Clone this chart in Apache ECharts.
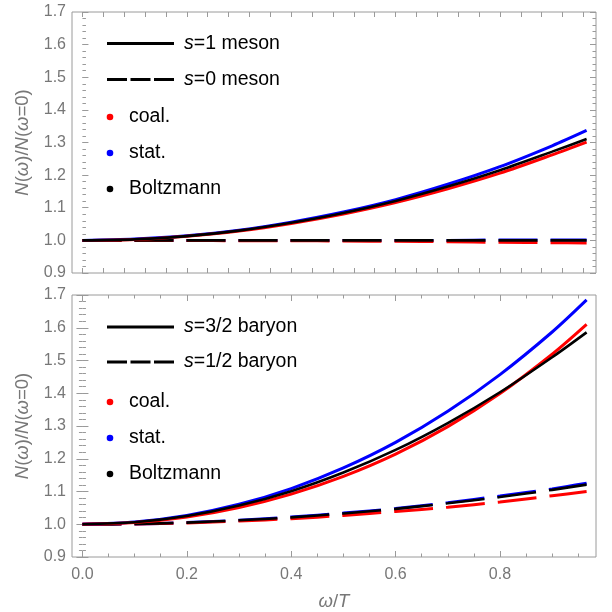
<!DOCTYPE html>
<html><head><meta charset="utf-8">
<script src="https://cdn.jsdelivr.net/npm/echarts@6/dist/echarts.min.js"></script>
<style>html,body{margin:0;padding:0;background:#fff}#c{width:612px;height:612px}</style>
</head><body><div id="c"></div>
<script>
// ---- data ----
var omegaT = [0, 0.1, 0.2, 0.3, 0.4, 0.5, 0.6, 0.7, 0.8, 0.9, 0.966];
// top panel: s=1 meson (solid)
var mesonS1Coal  = [1, 1.003, 1.013, 1.029, 1.052, 1.081, 1.116, 1.158, 1.206, 1.262, 1.301];
var mesonS1Stat  = [1, 1.004, 1.014, 1.031, 1.056, 1.087, 1.125, 1.172, 1.226, 1.290, 1.337];
var mesonS1Boltz = [1, 1.003, 1.013, 1.030, 1.054, 1.084, 1.121, 1.165, 1.215, 1.272, 1.311];
// top panel: s=0 meson (dashed)
var mesonS0Coal  = [1, 1.000, 1.000, 0.999, 0.999, 0.998, 0.997, 0.996, 0.994, 0.993, 0.992];
var mesonS0Stat  = [1, 1.000, 1.000, 1.000, 1.000, 1.000, 1.000, 1.000, 1.001, 1.001, 1.001];
var mesonS0Boltz = [1, 1.000, 1.000, 1.000, 1.000, 1.000, 1.000, 1.000, 1.000, 1.000, 1.000];
// bottom panel: s=3/2 baryon (solid)
var baryonS32Coal  = [1, 1.005, 1.022, 1.051, 1.092, 1.146, 1.214, 1.298, 1.399, 1.519, 1.610];
var baryonS32Stat  = [1, 1.007, 1.027, 1.061, 1.109, 1.172, 1.250, 1.345, 1.457, 1.587, 1.685];
var baryonS32Boltz = [1, 1.006, 1.025, 1.057, 1.101, 1.158, 1.227, 1.309, 1.403, 1.510, 1.586];
// bottom panel: s=1/2 baryon (dashed)
var baryonS12Coal  = [1, 1.001, 1.004, 1.010, 1.017, 1.027, 1.039, 1.052, 1.068, 1.087, 1.100];
var baryonS12Stat  = [1, 1.001, 1.005, 1.012, 1.022, 1.034, 1.048, 1.066, 1.086, 1.108, 1.125];
var baryonS12Boltz = [1, 1.001, 1.005, 1.012, 1.021, 1.033, 1.047, 1.064, 1.083, 1.105, 1.121];
// ticks
var xTickLabels = [0, 0.2, 0.4, 0.6, 0.8];
var yTickLabels = [0.9, 1.0, 1.1, 1.2, 1.3, 1.4, 1.5, 1.6, 1.7];

// ---- styling ----
var FONT = "'Liberation Sans', Arial, sans-serif";
var GRAY = '#777777';
var FRAME = '#9a9a9a';
var XMIN = -0.02, XMAX = 0.984, YMIN = 0.9, YMAX = 1.7;
function seq(a, b, step) { var r = []; var n = Math.round((b - a) / step); for (var i = 0; i <= n; i++) r.push(Math.round((a + i * step) * 1000) / 1000); return r; }
var xMinor = seq(0, 0.95, 0.05);
var xTopPanel = seq(0, 0.96, 0.04);
var yMinor = seq(0.9, 1.7, 0.02);

var xAxes = [], yAxes = [];
function xAx(grid, pos, vals, len, labels) {
  xAxes.push({
    type: 'value', gridIndex: grid, position: pos, min: XMIN, max: XMAX,
    axisLine: { show: false }, splitLine: { show: false },
    axisTick: { show: true, inside: true, length: len, customValues: vals, lineStyle: { color: FRAME, width: 1 } },
    axisLabel: labels ? { show: true, customValues: vals, margin: 10, color: GRAY, fontSize: 16, fontFamily: FONT, formatter: function (v) { return v.toFixed(1); } } : { show: false }
  });
  return xAxes.length - 1;
}
function yAx(grid, pos, vals, len, labels) {
  yAxes.push({
    type: 'value', gridIndex: grid, position: pos, min: YMIN, max: YMAX,
    axisLine: { show: false }, splitLine: { show: false },
    axisTick: { show: true, inside: true, length: len, customValues: vals, lineStyle: { color: FRAME, width: 1 } },
    axisLabel: labels ? { show: true, customValues: vals, margin: 6, color: GRAY, fontSize: 16, fontFamily: FONT, formatter: function (v) { return v.toFixed(1); } } : { show: false }
  });
  return yAxes.length - 1;
}
var nameRich = { i: { fontStyle: 'italic', fontSize: 18.5, fontFamily: FONT, color: GRAY } };
var yName = '{i|N}({i|ω})/{i|N}({i|ω}=0)';

// top grid axes
var xTop0 = xAx(0, 'bottom', xTopPanel, 5, false);
xAx(0, 'top', xTopPanel, 5, false);
var yTop0 = yAx(0, 'left', yTickLabels, 6, true);
yAx(0, 'left', yMinor, 3.5, false);
yAx(0, 'right', yTickLabels, 6, false);
yAx(0, 'right', yMinor, 3.5, false);
// bottom grid axes
var xBot0 = xAx(1, 'bottom', xTickLabels, 6, true);
xAx(1, 'bottom', xMinor, 3.5, false);
xAx(1, 'top', xTickLabels, 6, false);
xAx(1, 'top', xMinor, 3.5, false);
var yBot0 = yAx(1, 'left', yTickLabels, 6, true);
yAx(1, 'left', yMinor, 3.5, false);
yAx(1, 'right', yTickLabels, 6, false);
yAx(1, 'right', yMinor, 3.5, false);

[yTop0, yBot0].forEach(function (k) {
  yAxes[k].name = yName;
  yAxes[k].nameLocation = 'middle';
  yAxes[k].nameRotate = 90;
  yAxes[k].nameGap = 33;
  yAxes[k].nameTextStyle = { color: GRAY, fontSize: 18.5, fontFamily: FONT, rich: nameRich };
});
xAxes[xBot0].name = '{i|ω}/{i|T}';
xAxes[xBot0].nameLocation = 'middle';
xAxes[xBot0].nameGap = 35;
xAxes[xBot0].nameTextStyle = { color: GRAY, fontSize: 18.5, fontFamily: FONT, rich: nameRich };

function pairs(ys) { return omegaT.map(function (x, i) { return [x, ys[i]]; }); }
var DASH = [39, 13];
function line(xi, yi, ys, color, dashed, w) {
  return {
    type: 'line', xAxisIndex: xi, yAxisIndex: yi, data: pairs(ys), smooth: 0.3,
    showSymbol: false, silent: true, animation: false,
    lineStyle: { color: color, width: w, type: dashed ? DASH : 'solid', cap: 'butt' }
  };
}
var RED = '#ff0000', BLUE = '#0000ff', BLACK = '#000000';
var series = [
  line(xTop0, yTop0, mesonS0Stat, BLUE, true, 3),
  line(xTop0, yTop0, mesonS0Coal, RED, true, 3),
  line(xTop0, yTop0, mesonS0Boltz, BLACK, true, 2.6),
  line(xTop0, yTop0, mesonS1Stat, BLUE, false, 3),
  line(xTop0, yTop0, mesonS1Coal, RED, false, 3),
  line(xTop0, yTop0, mesonS1Boltz, BLACK, false, 2.6),
  line(xBot0, yBot0, baryonS12Stat, BLUE, true, 3),
  line(xBot0, yBot0, baryonS12Coal, RED, true, 3),
  line(xBot0, yBot0, baryonS12Boltz, BLACK, true, 2.6),
  line(xBot0, yBot0, baryonS32Stat, BLUE, false, 3),
  line(xBot0, yBot0, baryonS32Coal, RED, false, 3),
  line(xBot0, yBot0, baryonS32Boltz, BLACK, false, 2.6)
];

// ---- legends (graphic) ----
var LF = 19.5;
var legRich = { i: { fontStyle: 'italic', fontSize: LF, fontFamily: FONT, fill: '#000' } };
function legendBlock(labels, yLines, yDots) {
  var g = [];
  g.push({ type: 'line', shape: { x1: 107, y1: yLines[0], x2: 174, y2: yLines[0] }, style: { stroke: '#000', lineWidth: 3 } });
  g.push({ type: 'line', shape: { x1: 107, y1: yLines[1], x2: 174, y2: yLines[1] }, style: { stroke: '#000', lineWidth: 3, lineDash: [20, 3.5] } });
  g.push({ type: 'text', x: 184, y: yLines[0], style: { text: labels[0], rich: legRich, fontSize: LF, fontFamily: FONT, fill: '#000', verticalAlign: 'middle' } });
  g.push({ type: 'text', x: 184, y: yLines[1], style: { text: labels[1], rich: legRich, fontSize: LF, fontFamily: FONT, fill: '#000', verticalAlign: 'middle' } });
  var cols = [RED, BLUE, BLACK], names = ['coal.', 'stat.', 'Boltzmann'];
  for (var k = 0; k < 3; k++) {
    g.push({ type: 'circle', shape: { cx: 110, cy: yDots[k], r: 3.3 }, style: { fill: cols[k] } });
    g.push({ type: 'text', x: 129, y: yDots[k], style: { text: names[k], fontSize: LF, fontFamily: FONT, fill: '#000', verticalAlign: 'middle' } });
  }
  return g;
}
var graphics = legendBlock(['{i|s}=1 meson', '{i|s}=0 meson'], [43.5, 79.5], [117, 153, 189])
  .concat(legendBlock(['{i|s}=3/2 baryon', '{i|s}=1/2 baryon'], [327, 362], [402, 438, 474]));

var chart = echarts.init(document.getElementById('c'), null, { renderer: 'canvas' });
chart.setOption({
  animation: false,
  backgroundColor: '#ffffff',
  grid: [
    { left: 72, top: 12, width: 524, height: 261, show: true, borderColor: FRAME, borderWidth: 1, backgroundColor: 'transparent' },
    { left: 72, top: 295, width: 524, height: 262, show: true, borderColor: FRAME, borderWidth: 1, backgroundColor: 'transparent' }
  ],
  xAxis: xAxes,
  yAxis: yAxes,
  series: series,
  graphic: graphics
});
</script></body></html>
